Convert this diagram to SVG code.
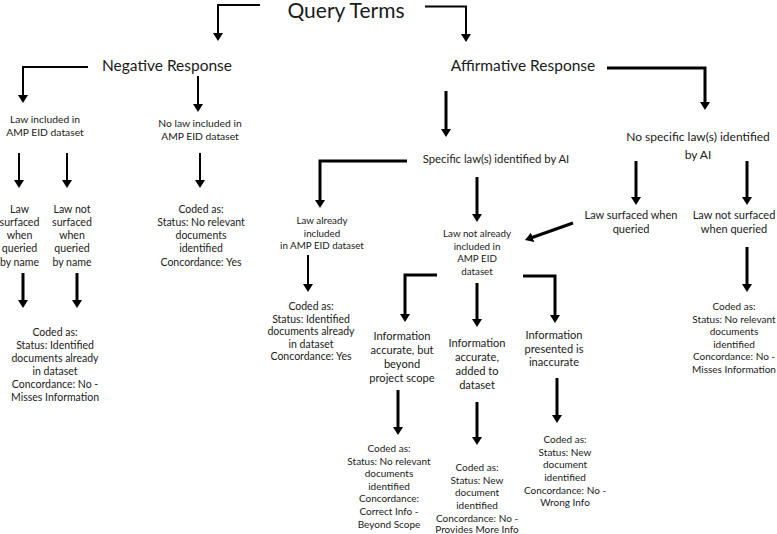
<svg xmlns="http://www.w3.org/2000/svg" width="777" height="534" viewBox="0 0 777 534">
<defs>
<style>
text{font-family:Lato,"Liberation Sans",sans-serif;fill:#1a1a1a;text-anchor:middle}
.t1{font-size:21px}
.t2{font-size:15.5px}
.c10{font-size:10px}
.c105{font-size:10.5px}
.n10{font-size:10.3px}
.l10{font-size:9.8px}
.s106{font-size:10.6px}
.i11{font-size:11.1px}
.q11{font-size:11px}
.sp{font-size:11.3px}
.ns{font-size:12px}
.c{fill:none;stroke:#000;stroke-linejoin:miter}
.w2{stroke-width:2}
.w3{stroke-width:3}
</style>
<marker id="ah" viewBox="0 0 8 10" refX="2" refY="5" markerWidth="8" markerHeight="10" markerUnits="userSpaceOnUse" orient="auto">
<path d="M0,0 L8,5 L0,10 z" fill="#000"/>
</marker>
</defs>
<rect width="777" height="534" fill="#fff"/>
<g id="connectors">
<path class="c w2" d="M260,5 H218 V35" marker-end="url(#ah)"/>
<path class="c w2" d="M425,6.5 H466 V36" marker-end="url(#ah)"/>
<path class="c w2" d="M88,67 H23 V97" marker-end="url(#ah)"/>
<path class="c w2" d="M198,76 V106" marker-end="url(#ah)"/>
<path class="c w2" d="M19,153 V182" marker-end="url(#ah)"/>
<path class="c w2" d="M67,153 V182" marker-end="url(#ah)"/>
<path class="c w2" d="M200,153 V182" marker-end="url(#ah)"/>
<path class="c w3" d="M23,273 V302" marker-end="url(#ah)"/>
<path class="c w3" d="M77,273 V302" marker-end="url(#ah)"/>
<path class="c w3" d="M607,68 H705 V104" marker-end="url(#ah)"/>
<path class="c w3" d="M446,91 V131" marker-end="url(#ah)"/>
<path class="c w3" d="M407,161 H320 V202" marker-end="url(#ah)"/>
<path class="c w3" d="M477,177 V216" marker-end="url(#ah)"/>
<path class="c w2" d="M308,255 V286" marker-end="url(#ah)"/>
<path class="c w3" d="M573,223 L530.7,238" marker-end="url(#ah)"/>
<path class="c w3" d="M437,275 H405 V316" marker-end="url(#ah)"/>
<path class="c w3" d="M477,283 V321" marker-end="url(#ah)"/>
<path class="c w3" d="M523,276 H555 V317" marker-end="url(#ah)"/>
<path class="c w3" d="M636,161 V199" marker-end="url(#ah)"/>
<path class="c w3" d="M747,161 V199" marker-end="url(#ah)"/>
<path class="c w3" d="M747,247 V286" marker-end="url(#ah)"/>
<path class="c w3" d="M398,390 V429" marker-end="url(#ah)"/>
<path class="c w3" d="M477,402 V439" marker-end="url(#ah)"/>
<path class="c w3" d="M557,378 V417" marker-end="url(#ah)"/>
</g>
<g id="query-terms"><text class="t1" x="346" y="17.5">Query Terms</text></g>
<g id="negative-response"><text class="t2" x="167" y="70.5">Negative Response</text></g>
<g id="affirmative-response"><text class="t2" x="523" y="70.5">Affirmative Response</text></g>
<g id="law-included"><text class="n10" x="45" y="122.5">Law included in</text><text class="n10" x="45" y="135.5">AMP EID dataset</text></g>
<g id="no-law-included"><text class="n10" x="200" y="126.5">No law included in</text><text class="n10" x="200" y="139.5">AMP EID dataset</text></g>
<g id="law-surfaced-name"><text class="s106" x="19.5" y="212.5">Law</text><text class="s106" x="19.5" y="225.5">surfaced</text><text class="s106" x="19.5" y="239">when</text><text class="s106" x="19.5" y="252">queried</text><text class="s106" x="19.5" y="265.5">by name</text></g>
<g id="law-not-surfaced-name"><text class="s106" x="72" y="212.5">Law not</text><text class="s106" x="72" y="225.5">surfaced</text><text class="s106" x="72" y="239">when</text><text class="s106" x="72" y="252">queried</text><text class="s106" x="72" y="265.5">by name</text></g>
<g id="coded-no-law"><text class="c105" x="201" y="212.5">Coded as:</text><text class="c105" x="201" y="225.5">Status: No relevant</text><text class="c105" x="201" y="239">documents</text><text class="c105" x="201" y="252">identified</text><text class="c105" x="201" y="265.5">Concordance: Yes</text></g>
<g id="coded-law-included"><text class="c105" x="55" y="335.5">Coded as:</text><text class="c105" x="55" y="348.5">Status: Identified</text><text class="c105" x="55" y="361.5">documents already</text><text class="c105" x="55" y="375">in dataset</text><text class="c105" x="55" y="388">Concordance: No -</text><text class="c105" x="55" y="401">Misses Information</text></g>
<g id="specific-law"><text class="sp" x="496" y="163">Specific law(s) identified by AI</text></g>
<g id="no-specific-law"><text class="ns" x="698" y="141">No specific law(s) identified</text><text class="ns" x="698" y="159">by AI</text></g>
<g id="law-already-included"><text class="l10" x="322" y="224">Law already</text><text class="l10" x="322" y="236.5">included</text><text class="l10" x="322" y="249">in AMP EID dataset</text></g>
<g id="law-not-already-included"><text class="l10" x="477" y="237">Law not already</text><text class="l10" x="477" y="249.5">included in</text><text class="l10" x="477" y="262">AMP EID</text><text class="l10" x="477" y="274.5">dataset</text></g>
<g id="coded-law-already"><text class="c105" x="311" y="310">Coded as:</text><text class="c105" x="311" y="322.5">Status: Identified</text><text class="c105" x="311" y="335">documents already</text><text class="c105" x="311" y="347.5">in dataset</text><text class="c105" x="311" y="360">Concordance: Yes</text></g>
<g id="law-surfaced-queried"><text class="q11" x="631" y="219">Law surfaced when</text><text class="q11" x="631" y="233">queried</text></g>
<g id="law-not-surfaced-queried"><text class="q11" x="734" y="219">Law not surfaced</text><text class="q11" x="734" y="233">when queried</text></g>
<g id="coded-not-surfaced"><text class="c10" x="734" y="310">Coded as:</text><text class="c10" x="734" y="322.5">Status: No relevant</text><text class="c10" x="734" y="335">documents</text><text class="c10" x="734" y="347.5">identified</text><text class="c10" x="734" y="360">Concordance: No -</text><text class="c10" x="734" y="372.5">Misses Information</text></g>
<g id="info-beyond-scope"><text class="i11" x="402" y="340">Information</text><text class="i11" x="402" y="354">accurate, but</text><text class="i11" x="402" y="368">beyond</text><text class="i11" x="402" y="382">project scope</text></g>
<g id="info-added"><text class="i11" x="477" y="347">Information</text><text class="i11" x="477" y="361">accurate,</text><text class="i11" x="477" y="375">added to</text><text class="i11" x="477" y="389">dataset</text></g>
<g id="info-inaccurate"><text class="i11" x="554" y="339">Information</text><text class="i11" x="554" y="353">presented is</text><text class="i11" x="554" y="366">inaccurate</text></g>
<g id="coded-beyond-scope"><text class="c10" x="389" y="451.5">Coded as:</text><text class="c10" x="389" y="464.5">Status: No relevant</text><text class="c10" x="389" y="476.5">documents</text><text class="c10" x="389" y="489.5">identified</text><text class="c10" x="389" y="502">Concordance:</text><text class="c10" x="389" y="515">Correct Info -</text><text class="c10" x="389" y="528">Beyond Scope</text></g>
<g id="coded-added"><text class="c10" x="477" y="470.5">Coded as:</text><text class="c10" x="477" y="483.5">Status: New</text><text class="c10" x="477" y="495.5">document</text><text class="c10" x="477" y="508.5">identified</text><text class="c10" x="477" y="521.5">Concordance: No -</text><text class="c10" x="477" y="532.5">Provides More Info</text></g>
<g id="coded-inaccurate"><text class="c10" x="565" y="442.5">Coded as:</text><text class="c10" x="565" y="455.5">Status: New</text><text class="c10" x="565" y="467.5">document</text><text class="c10" x="565" y="480.5">identified</text><text class="c10" x="565" y="493.5">Concordance: No -</text><text class="c10" x="565" y="505.5">Wrong Info</text></g>
</svg>
